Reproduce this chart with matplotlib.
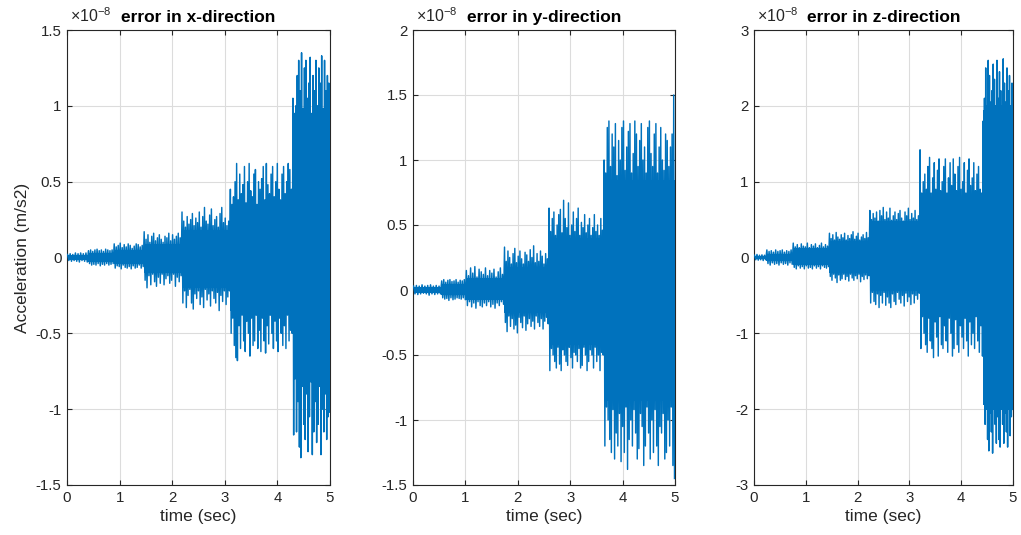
import numpy as np
import matplotlib
matplotlib.use("Agg")
import matplotlib.pyplot as plt

plt.rcParams["font.family"] = ["Liberation Sans", "DejaVu Sans"]
plt.rcParams["mathtext.fontset"] = "custom"
plt.rcParams["mathtext.rm"] = "Liberation Sans"

BLUE = "#0072BD"
DARK = "#262626"

# all values in units of 1e-8 m/s2
# x-direction: segment edges (sec), dense core band, spike tips per segment
x_edges = [0, 0.4, 0.89, 1.46, 2.18, 3.1, 4.29, 5.0]
x_core_up = [0.015, 0.03, 0.05, 0.09, 0.18, 0.3, 0.88]
x_core_lo = [-0.015, -0.03, -0.045, -0.1, -0.2, -0.35, -0.75]
x_upper = [
    [0.02, 0.025, 0.02, 0.03, 0.025, 0.03, 0.025, 0.03],
    [0.045, 0.05, 0.04, 0.05, 0.055, 0.045, 0.05, 0.04, 0.055, 0.05, 0.045, 0.05],
    [0.09, 0.07, 0.08, 0.095, 0.065, 0.085, 0.07, 0.09, 0.08, 0.06, 0.075, 0.09, 0.085, 0.07, 0.08],
    [0.17, 0.12, 0.15, 0.1, 0.14, 0.16, 0.11, 0.13, 0.15, 0.12, 0.1, 0.14, 0.13, 0.16, 0.11, 0.15, 0.12,
     0.14, 0.16, 0.13],
    [0.3, 0.24, 0.2, 0.27, 0.22, 0.25, 0.29, 0.21, 0.26, 0.23, 0.3, 0.2, 0.27, 0.33, 0.24, 0.22, 0.28,
     0.32, 0.21, 0.25, 0.27, 0.2, 0.29, 0.33, 0.23, 0.26, 0.21, 0.24],
    [0.45, 0.35, 0.4, 0.5, 0.62, 0.38, 0.55, 0.42, 0.48, 0.6, 0.36, 0.5, 0.62, 0.44, 0.4, 0.55, 0.58,
     0.35, 0.5, 0.45, 0.52, 0.6, 0.38, 0.62, 0.48, 0.42, 0.55, 0.6, 0.4, 0.5, 0.62, 0.45, 0.38, 0.55,
     0.6, 0.42, 0.5, 0.62, 0.58, 0.45],
    [1.05, 0.95, 1.0, 1.2, 1.3, 1.1, 1.35, 0.98, 1.25, 1.3, 1.05, 1.15, 1.32, 0.95, 1.2, 1.1, 1.3, 1.0,
     1.25, 1.15, 1.33, 0.98, 1.3, 1.1, 1.2, 1.15],
]
x_lower = [
    [-0.02, -0.025, -0.02, -0.025, -0.03, -0.02, -0.025, -0.03],
    [-0.04, -0.05, -0.045, -0.05, -0.04, -0.055, -0.045, -0.05, -0.04, -0.05, -0.045, -0.04],
    [-0.07, -0.055, -0.06, -0.075, -0.05, -0.065, -0.07, -0.06, -0.075, -0.055, -0.07, -0.065, -0.05,
     -0.07, -0.06],
    [-0.15, -0.2, -0.12, -0.18, -0.11, -0.16, -0.19, -0.13, -0.17, -0.11, -0.18, -0.14, -0.12, -0.17,
     -0.15, -0.11, -0.19, -0.13, -0.16, -0.12],
    [-0.3, -0.22, -0.33, -0.25, -0.21, -0.3, -0.34, -0.24, -0.27, -0.22, -0.31, -0.26, -0.33, -0.21,
     -0.28, -0.24, -0.32, -0.22, -0.27, -0.3, -0.23, -0.35, -0.25, -0.29, -0.22, -0.31, -0.26, -0.22],
    [-0.5, -0.4, -0.58, -0.66, -0.68, -0.45, -0.6, -0.38, -0.55, -0.62, -0.42, -0.5, -0.65, -0.4, -0.58,
     -0.55, -0.38, -0.6, -0.48, -0.62, -0.4, -0.55, -0.63, -0.45, -0.57, -0.38, -0.5, -0.6, -0.42, -0.55,
     -0.62, -0.4, -0.5, -0.58, -0.45, -0.6, -0.38, -0.55, -0.48, -0.5],
    [-1.17, -0.8, -1.15, -0.95, -1.25, -1.32, -0.85, -1.1, -1.2, -0.9, -1.28, -1.05, -0.82, -1.3, -1.15,
     -0.95, -1.22, -1.1, -0.85, -1.3, -1.0, -1.15, -0.9, -1.2, -1.05, -1.02],
]

# y-direction
y_edges = [0, 0.54, 1.01, 1.74, 2.59, 3.64, 5.0]
y_core_up = [0.02, 0.045, 0.09, 0.18, 0.4, 0.85]
y_core_lo = [-0.02, -0.04, -0.08, -0.18, -0.42, -0.85]
y_upper = [
    [0.03, 0.035, 0.03, 0.04, 0.03, 0.035, 0.04, 0.03, 0.035, 0.03],
    [0.07, 0.08, 0.06, 0.075, 0.08, 0.065, 0.07, 0.08, 0.06, 0.075, 0.07, 0.08],
    [0.15, 0.11, 0.17, 0.13, 0.18, 0.1, 0.16, 0.14, 0.12, 0.17, 0.11, 0.15, 0.13, 0.16, 0.1, 0.14, 0.17,
     0.12],
    [0.33, 0.22, 0.3, 0.25, 0.2, 0.28, 0.32, 0.21, 0.26, 0.3, 0.24, 0.2, 0.29, 0.27, 0.22, 0.31, 0.25,
     0.34, 0.21, 0.28, 0.22, 0.3, 0.26, 0.2, 0.28, 0.24],
    [0.63, 0.45, 0.55, 0.6, 0.42, 0.5, 0.58, 0.62, 0.44, 0.69, 0.55, 0.48, 0.67, 0.42, 0.5, 0.6, 0.45,
     0.55, 0.63, 0.42, 0.52, 0.48, 0.58, 0.44, 0.5, 0.55, 0.42, 0.48, 0.58, 0.45, 0.5, 0.42, 0.55, 0.46],
    [1.0, 0.9, 1.25, 1.3, 0.95, 1.2, 1.1, 1.28, 0.88, 1.15, 1.0, 1.25, 1.3, 0.92, 1.1, 1.22, 1.28, 0.9,
     1.05, 1.3, 1.2, 0.95, 1.15, 1.28, 1.0, 1.1, 0.9, 1.25, 1.3, 1.05, 0.95, 1.2, 1.28, 0.9, 1.1, 1.25,
     1.0, 0.92, 1.2, 1.15, 0.95, 1.1, 1.2, 1.5],
]
y_lower = [
    [-0.03, -0.035, -0.03, -0.025, -0.03, -0.04, -0.03, -0.035, -0.03, -0.03],
    [-0.06, -0.07, -0.065, -0.08, -0.06, -0.075, -0.07, -0.06, -0.065, -0.07, -0.06, -0.075],
    [-0.12, -0.09, -0.13, -0.1, -0.14, -0.09, -0.12, -0.13, -0.1, -0.12, -0.09, -0.13, -0.11, -0.14,
     -0.1, -0.12, -0.09, -0.11],
    [-0.25, -0.32, -0.2, -0.28, -0.22, -0.3, -0.27, -0.33, -0.21, -0.25, -0.29, -0.2, -0.31, -0.26,
     -0.22, -0.28, -0.24, -0.3, -0.2, -0.25, -0.28, -0.22, -0.3, -0.24, -0.21, -0.26],
    [-0.62, -0.45, -0.5, -0.55, -0.6, -0.44, -0.57, -0.62, -0.46, -0.5, -0.55, -0.58, -0.44, -0.52,
     -0.6, -0.48, -0.5, -0.55, -0.45, -0.6, -0.58, -0.44, -0.5, -0.62, -0.55, -0.46, -0.5, -0.6, -0.44,
     -0.55, -0.5, -0.62, -0.48, -0.5],
    [-1.2, -0.9, -1.0, -1.15, -1.25, -0.92, -1.3, -1.1, -1.2, -0.95, -1.32, -1.05, -1.25, -0.9, -1.38,
     -1.15, -1.0, -1.2, -0.92, -1.1, -1.3, -1.22, -0.95, -1.05, -1.35, -1.2, -0.9, -1.1, -1.3, -1.0,
     -1.25, -0.92, -1.2, -1.35, -1.05, -1.1, -0.95, -1.3, -1.25, -1.0, -1.2, -0.9, -1.35, -1.45],
]

# z-direction
z_edges = [0, 0.24, 0.75, 1.45, 2.23, 3.2, 4.42, 5.0]
z_core_up = [0.02, 0.05, 0.12, 0.22, 0.48, 0.8, 1.95]
z_core_lo = [-0.02, -0.05, -0.1, -0.2, -0.44, -0.73, -1.95]
z_upper = [
    [0.03, 0.04, 0.03, 0.035, 0.03],
    [0.1, 0.08, 0.09, 0.07, 0.1, 0.08, 0.09, 0.1, 0.07, 0.09, 0.08, 0.1],
    [0.19, 0.14, 0.17, 0.13, 0.18, 0.15, 0.14, 0.19, 0.13, 0.17, 0.15, 0.18, 0.13, 0.16, 0.19, 0.14,
     0.17, 0.15],
    [0.32, 0.25, 0.3, 0.23, 0.33, 0.27, 0.24, 0.3, 0.26, 0.32, 0.23, 0.29, 0.25, 0.3, 0.34, 0.24, 0.28,
     0.32, 0.23, 0.27, 0.3, 0.25, 0.33, 0.26],
    [0.62, 0.5, 0.58, 0.52, 0.6, 0.48, 0.62, 0.55, 0.66, 0.5, 0.6, 0.52, 0.65, 0.49, 0.55, 0.6, 0.5,
     0.58, 0.62, 0.52, 0.48, 0.6, 0.55, 0.65, 0.5, 0.58, 0.52, 0.62, 0.5, 0.55],
    [1.42, 0.85, 1.0, 1.1, 0.9, 1.2, 1.32, 0.85, 1.05, 1.25, 0.9, 1.15, 1.3, 0.88, 1.0, 1.2, 1.3, 0.85,
     1.05, 1.25, 0.95, 1.3, 1.1, 0.88, 1.2, 1.32, 0.9, 1.0, 1.25, 0.85, 1.15, 1.3, 0.95, 1.05, 1.25,
     0.88, 1.1, 1.2, 0.9, 0.85],
    [1.8, 2.1, 2.5, 2.0, 2.6, 2.4, 2.05, 2.2, 2.55, 2.35, 2.0, 2.6, 2.1, 2.45, 2.2, 2.0, 2.62, 2.3, 2.05,
     2.5, 2.2, 2.4, 2.0, 2.3],
]
z_lower = [
    [-0.03, -0.035, -0.03, -0.04, -0.03],
    [-0.08, -0.1, -0.07, -0.09, -0.08, -0.1, -0.07, -0.09, -0.08, -0.1, -0.07, -0.09],
    [-0.13, -0.15, -0.11, -0.14, -0.12, -0.15, -0.11, -0.14, -0.13, -0.15, -0.11, -0.14, -0.12, -0.15,
     -0.11, -0.13, -0.14, -0.12],
    [-0.25, -0.3, -0.22, -0.27, -0.33, -0.23, -0.3, -0.28, -0.22, -0.29, -0.25, -0.31, -0.22, -0.27,
     -0.3, -0.24, -0.28, -0.22, -0.32, -0.25, -0.29, -0.23, -0.28, -0.24],
    [-0.6, -0.46, -0.58, -0.62, -0.48, -0.66, -0.5, -0.6, -0.46, -0.63, -0.52, -0.6, -0.66, -0.48, -0.58,
     -0.62, -0.46, -0.55, -0.6, -0.5, -0.64, -0.47, -0.58, -0.52, -0.62, -0.48, -0.6, -0.5, -0.55, -0.47],
    [-1.2, -0.78, -1.0, -1.15, -1.25, -0.8, -1.1, -1.2, -1.32, -0.85, -1.05, -1.3, -0.78, -1.15, -1.2,
     -0.9, -1.1, -1.25, -0.8, -1.0, -1.3, -1.2, -0.82, -1.15, -1.25, -0.9, -1.05, -1.2, -0.8, -1.1, -1.3,
     -0.85, -1.15, -1.0, -1.2, -0.78, -1.1, -1.25, -0.9, -1.3],
    [-1.5, -2.2, -2.0, -2.4, -2.55, -2.05, -2.3, -2.58, -2.0, -2.2, -2.45, -2.1, -2.4, -2.5, -2.0, -2.2,
     -2.45, -2.05, -2.3, -2.5, -2.0, -2.35, -2.1, -2.0],
]

titles = ["error in x-direction", "error in y-direction", "error in z-direction"]
x_ticks = [0, 1, 2, 3, 4, 5]
y_ticks = [
    [-1.5, -1, -0.5, 0, 0.5, 1, 1.5],
    [-1.5, -1, -0.5, 0, 0.5, 1, 1.5, 2],
    [-3, -2, -1, 0, 1, 2, 3],
]
y_ticklabels = [
    ["-1.5", "-1", "-0.5", "0", "0.5", "1", "1.5"],
    ["-1.5", "-1", "-0.5", "0", "0.5", "1", "1.5", "2"],
    ["-3", "-2", "-1", "0", "1", "2", "3"],
]

channels = [
    (x_edges, x_core_up, x_core_lo, x_upper, x_lower),
    (y_edges, y_core_up, y_core_lo, y_upper, y_lower),
    (z_edges, z_core_up, z_core_lo, z_upper, z_lower),
]


def build_trace(edges, upper, lower):
    # spike tips spread across each segment, upper/lower alternating in time
    pts = []
    for k in range(len(edges) - 1):
        a, b = edges[k], edges[k + 1]
        n_u, n_l = len(upper[k]), len(lower[k])
        for i, v in enumerate(upper[k]):
            pts.append((a + (i + 0.2) * (b - a) / n_u, v))
        for i, v in enumerate(lower[k]):
            pts.append((a + (i + 0.7) * (b - a) / n_l, v))
    pts.sort(key=lambda p: p[0])
    t = [p[0] for p in pts]
    v = [p[1] for p in pts]
    return t, v


fig = plt.figure(figsize=(10.21, 5.35), dpi=100)
boxes = [(67, 263), (413, 262), (754, 259)]
for n, (edges, core_up, core_lo, upper, lower) in enumerate(channels):
    left, width = boxes[n]
    ax = fig.add_axes([left / 1021, 1 - 485 / 535, width / 1021, 455 / 535])

    ax.fill_between(edges, core_up + [core_up[-1]], core_lo + [core_lo[-1]], step="post",
                    color=BLUE, linewidth=0, zorder=2)
    t, v = build_trace(edges, upper, lower)
    ax.plot(t, v, color=BLUE, linewidth=1.05, zorder=3)

    ax.set_xlim(0, 5)
    ax.set_ylim(y_ticks[n][0], y_ticks[n][-1])
    ax.set_xticks(x_ticks)
    ax.set_xticklabels([str(x) for x in x_ticks])
    ax.set_yticks(y_ticks[n])
    ax.set_yticklabels(y_ticklabels[n])

    ax.grid(True, color="#dcdcdc", linewidth=0.8, zorder=0)
    ax.set_axisbelow(True)
    ax.tick_params(direction="in", top=True, right=True, length=3.5, width=0.8,
                   labelsize=10.8, colors=DARK, pad=4)
    for s in ax.spines.values():
        s.set_color(DARK)
        s.set_linewidth(0.8)

    ax.set_xlabel("time (sec)", fontsize=12.5, color=DARK, labelpad=3)
    ax.set_title(titles[n], fontsize=12.5, fontweight="bold", color="black", pad=6)
    ax.text(0.01, 1.01, r"$\times 10^{-8}$", transform=ax.transAxes, ha="left", va="bottom",
            fontsize=11.5, color=DARK)
    if n == 0:
        ax.set_ylabel("Acceleration (m/s2)", fontsize=12.5, color=DARK, labelpad=4)

plt.savefig("out.png", dpi=100)
